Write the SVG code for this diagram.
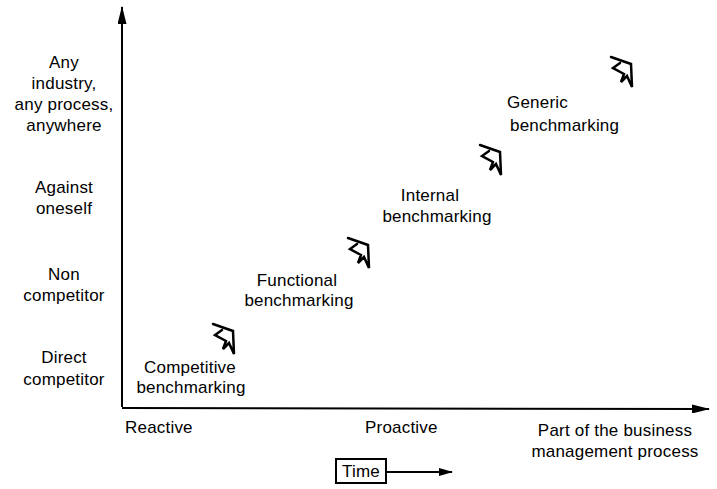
<svg xmlns="http://www.w3.org/2000/svg" width="717" height="489" viewBox="0 0 717 489">
  <defs>
    <style>
      text { font-family: "Liberation Sans", Arial, sans-serif; font-size: 17px; fill: #000; letter-spacing: 0.2px; }
      .mid { text-anchor: middle; }
      .axis { stroke: #000; stroke-width: 2; fill: none; }
      .step { stroke: #000; stroke-width: 2.5; fill: none; stroke-linejoin: miter; stroke-linecap: round; }
    </style>
    <marker id="head" viewBox="0 0 18 9" refX="17" refY="4.5" markerWidth="18" markerHeight="9" markerUnits="userSpaceOnUse" orient="auto">
      <path d="M0,0 L18,4.5 L0,9 Z" fill="#000"/>
    </marker>
    <marker id="headSmall" viewBox="0 0 14 8" refX="13" refY="4" markerWidth="14" markerHeight="8" markerUnits="userSpaceOnUse" orient="auto">
      <path d="M0,0 L14,4 L0,8 Z" fill="#000"/>
    </marker>
    <!-- open arrow glyph pointing up-left -->
    <path id="stepArrow" class="step" d="M1,1 L21,8 L22,31 L17,20 L11,26 L14,18 L3,12 L10,7"/>
  </defs>

  <!-- axes -->
  <g id="connectors">
    <line class="axis" x1="122" y1="407" x2="122" y2="7" marker-end="url(#head)"/>
    <line class="axis" x1="122" y1="408" x2="709" y2="409" marker-end="url(#head)"/>
    <line class="axis" x1="386" y1="472" x2="452" y2="472" marker-end="url(#headSmall)"/>
  </g>

  <!-- vertical axis labels -->
  <g id="y-any">
    <text class="mid" x="64" y="68">Any</text>
    <text class="mid" x="64" y="89">industry,</text>
    <text class="mid" x="64" y="110">any process,</text>
    <text class="mid" x="64" y="131">anywhere</text>
  </g>
  <g id="y-oneself">
    <text class="mid" x="64" y="193">Against</text>
    <text class="mid" x="64" y="214">oneself</text>
  </g>
  <g id="y-non">
    <text class="mid" x="64" y="280">Non</text>
    <text class="mid" x="64" y="301">competitor</text>
  </g>
  <g id="y-direct">
    <text class="mid" x="64" y="363">Direct</text>
    <text class="mid" x="64" y="385">competitor</text>
  </g>

  <!-- horizontal axis labels -->
  <g id="x-reactive"><text x="125" y="433">Reactive</text></g>
  <g id="x-proactive"><text x="365" y="433">Proactive</text></g>
  <g id="x-part">
    <text class="mid" x="615" y="436">Part of the business</text>
    <text class="mid" x="615" y="457">management process</text>
  </g>

  <!-- time key -->
  <g id="time">
    <rect x="336" y="459" width="50" height="24" fill="none" stroke="#000" stroke-width="2"/>
    <text class="mid" x="361" y="477">Time</text>
  </g>

  <!-- benchmarking stages -->
  <g id="competitive">
    <use href="#stepArrow" x="212" y="323"/>
    <text class="mid" x="190" y="373">Competitive</text>
    <text class="mid" x="191" y="393">benchmarking</text>
  </g>
  <g id="functional">
    <use href="#stepArrow" x="347" y="237"/>
    <text class="mid" x="297" y="286">Functional</text>
    <text class="mid" x="299" y="306">benchmarking</text>
  </g>
  <g id="internal">
    <use href="#stepArrow" x="479" y="144"/>
    <text class="mid" x="430" y="201">Internal</text>
    <text class="mid" x="437" y="222">benchmarking</text>
  </g>
  <g id="generic">
    <use href="#stepArrow" x="610" y="56"/>
    <text x="507" y="108">Generic</text>
    <text x="510" y="131">benchmarking</text>
  </g>
</svg>
